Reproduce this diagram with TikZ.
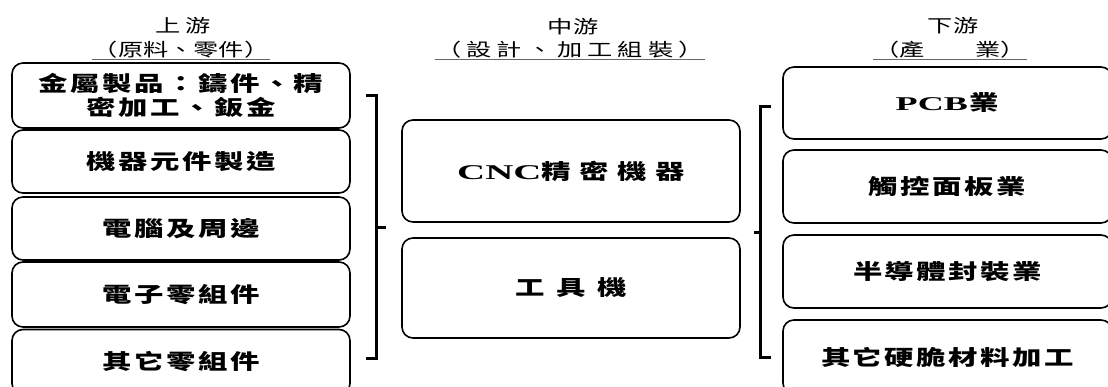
\documentclass[tikz,border=0pt]{standalone}
\usepackage{fontspec}
\newfontfamily\cjk[FakeStretch=1.4]{Noto Sans CJK TC}
\newfontfamily\latin[FakeStretch=1.85]{Liberation Serif}

\begin{document}
\begin{tikzpicture}[x=1pt,y=-1pt,
  box/.style={draw, line width=1.6pt, rounded corners=11pt, inner sep=0pt, align=center,
    font=\cjk\bfseries\fontsize{21}{24}\selectfont},
  head/.style={inner sep=1pt, font=\cjk\fontsize{18}{22}\selectfont},
  uline/.style={line width=1.4pt, black!60},
  brace/.style={line width=3pt}]
  \clip (0,0) rectangle (1108,387);

  %% headers
  \node[head] (up)  at (183,26) {\addfontfeatures{LetterSpace=30}上游};
  \node[head] (upu) at (181,50) {（原料、零件）};
  \node[head] (mid)  at (573,27) {中游};
  \node[head] (midu) at (570,50) {\addfontfeatures{LetterSpace=28}（設計、加工組裝）};
  \node[head] (down)  at (953,26) {下游};
  \node[head] (downu) at (950,50) {（產　　業）};
  \foreach \h in {upu,midu,downu}
    \draw[uline] (\h.south west) -- (\h.south east);

  %% upstream
  \begin{scope}[every node/.append style={box, minimum width=338pt}]
    \node[minimum height=65pt] (l1) at (181,95.5)
      {\addfontfeatures{LetterSpace=12}金屬製品：鑄件、精\\\addfontfeatures{LetterSpace=12}密加工、鈑金};
    \node[minimum height=63pt] (l2) at (181,161.5) {\addfontfeatures{LetterSpace=12}機器元件製造};
    \node[minimum height=63pt] (l3) at (181,228.5) {\addfontfeatures{LetterSpace=12}電腦及周邊};
    \node[minimum height=65pt] (l4) at (181,294.5) {\addfontfeatures{LetterSpace=12}電子零組件};
    \node[minimum height=65pt] (l5) at (181,362) {\addfontfeatures{LetterSpace=12}其它零組件};
  \end{scope}

  %% midstream
  \begin{scope}[every node/.append style={box, minimum width=338pt}]
    \node[minimum height=102pt] (m1) at (571,171)
      {{\latin\bfseries\fontsize{21}{24}\selectfont CNC}\addfontfeatures{LetterSpace=41}精密機器};
    \node[minimum height=100pt] (m2) at (571,288) {\addfontfeatures{LetterSpace=55}工具機};
  \end{scope}

  %% downstream
  \begin{scope}[every node/.append style={box, minimum width=329pt}]
    \node[minimum height=72pt] (r1) at (947.5,103)
      {{\latin\bfseries\fontsize{19.5}{24}\selectfont PCB}\hspace{2pt}業};
    \node[minimum height=73pt] (r2) at (947.5,186.5) {\addfontfeatures{LetterSpace=12}觸控面板業};
    \node[minimum height=73pt] (r3) at (947.5,271.5) {\addfontfeatures{LetterSpace=12}半導體封裝業};
    \node[minimum height=74pt] (r4) at (947.5,357) {\addfontfeatures{LetterSpace=12}其它硬脆材料加工};
  \end{scope}

  %% brackets
  \coordinate (lbt) at (376,96);
  \coordinate (lbb) at (376,358);
  \coordinate (lbm) at (376,228);
  \draw[brace] ([xshift=-10pt]lbt) -- (lbt) -- (lbb) -- ([xshift=-10pt]lbb);
  \draw[brace] (lbm) -- ([xshift=10pt]lbm);
  \coordinate (rbt) at (760,107);
  \coordinate (rbb) at (760,357);
  \coordinate (rbm) at (760,233);
  \draw[brace] ([xshift=11pt]rbt) -- (rbt) -- (rbb) -- ([xshift=11pt]rbb);
  \draw[brace] (rbm) -- ([xshift=-6pt]rbm);
\end{tikzpicture}
\end{document}
